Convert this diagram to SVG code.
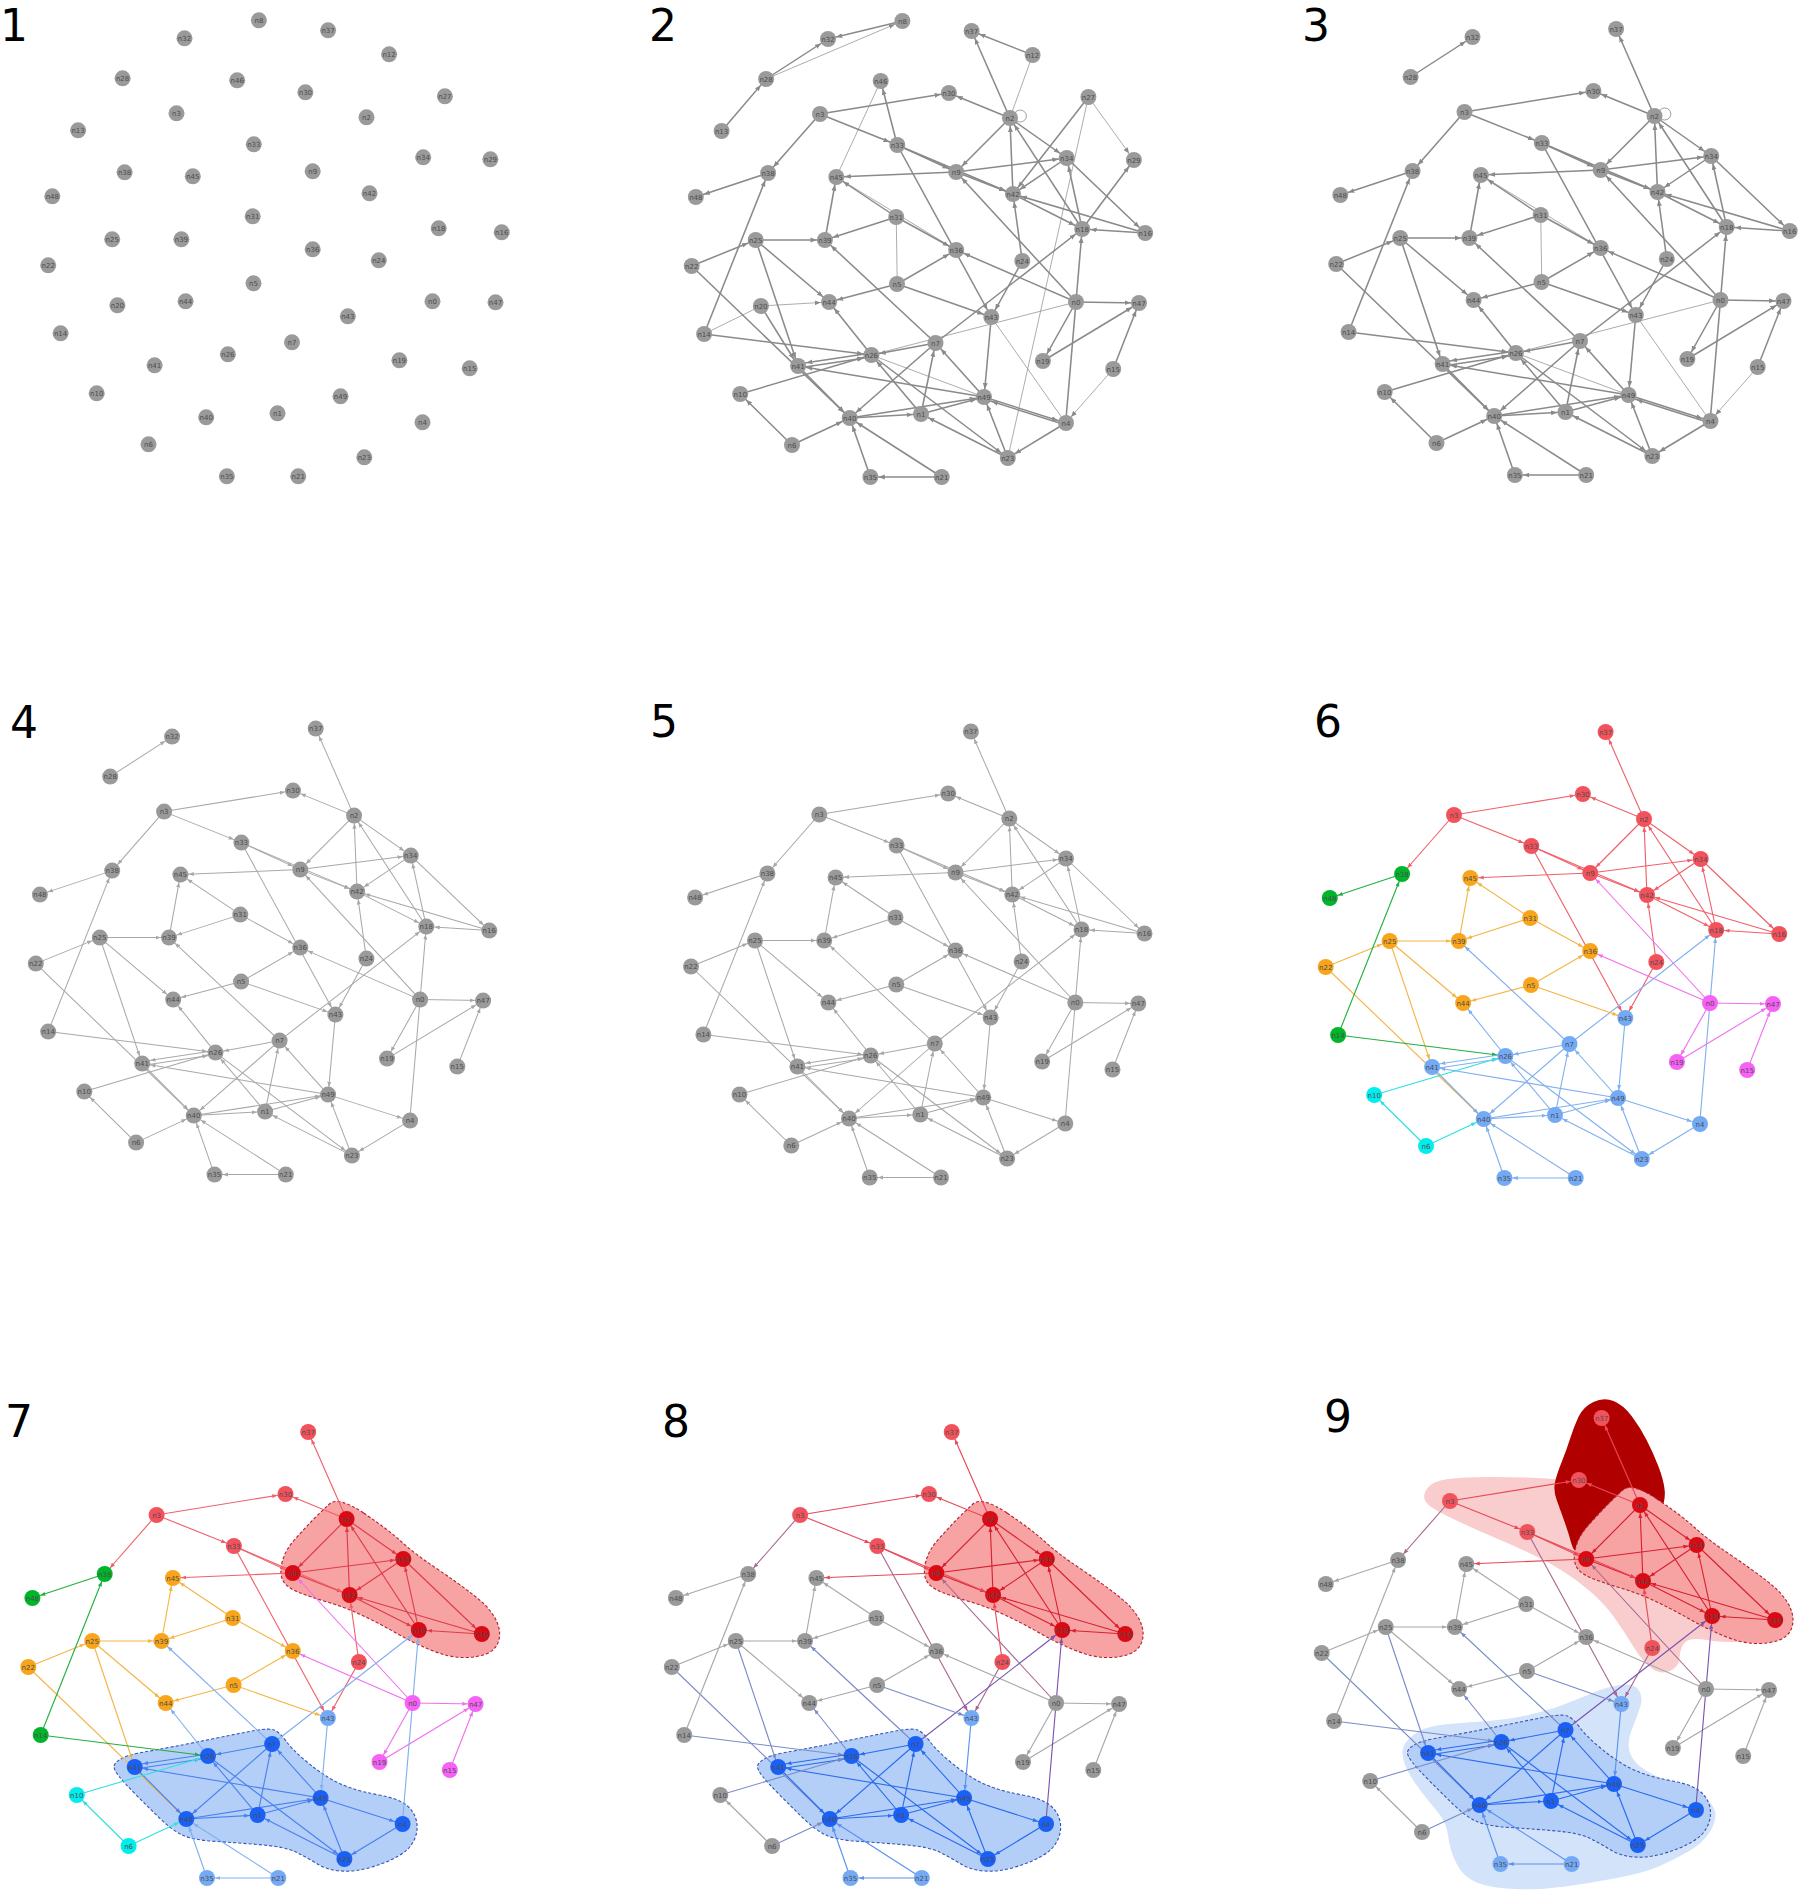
<svg xmlns="http://www.w3.org/2000/svg" width="1800" height="1895" viewBox="0 0 1800 1895" font-family="'DejaVu Sans', sans-serif" font-size="7" text-anchor="middle">
<style>
.num{font-size:44px;text-anchor:start;fill:#000}
.g{fill:#9a9a9a}.R{fill:#f2525c}.RR{fill:#d90a14}.G{fill:#00b52a}.O{fill:#f8a51c}.B{fill:#74aaf5}.BB{fill:#1a60f5}.C{fill:#00eeee}.M{fill:#f562f5}
.kD{stroke:#8a8a8a;marker-end:url(#mD)}
.kL{stroke:#a8a8a8;marker-end:url(#mL)}
.kR{stroke:#f0606a;marker-end:url(#mR)}
.kRd{stroke:#e03a4a;marker-end:url(#mRd)}
.kRR{stroke:#d82030;marker-end:url(#mRR)}
.kRl{stroke:#e84858;marker-end:url(#mRl)}
.kMv{stroke:#a86890;marker-end:url(#mMv)}
.kM{stroke:#f070f0;marker-end:url(#mM)}
.kB{stroke:#80b0f0;marker-end:url(#mB)}
.kBq{stroke:#4a80f0;marker-end:url(#mBq)}
.kBB{stroke:#2a6af0;marker-end:url(#mBB)}
.kBl{stroke:#5a90f0;marker-end:url(#mBl)}
.kO{stroke:#f5b545;marker-end:url(#mO)}
.kG{stroke:#20b040;marker-end:url(#mG)}
.kC{stroke:#30e0e0;marker-end:url(#mC)}
.kP{stroke:#7a55b0;marker-end:url(#mP)}
.kGB{stroke:#7a8cc8;marker-end:url(#mGB)}
.hR{fill:#f7a3a3;stroke:#b52030;stroke-width:1.1;stroke-dasharray:3 2}
.hB{fill:#b3cff7;stroke:#3a55b5;stroke-width:1.1;stroke-dasharray:3 2}
.hD{fill:#b00000}.hP{fill:#f9cdcd}.hO{fill:#d3e3fa}
</style>
<defs>
<marker id="mD" viewBox="0 0 10 10" refX="23.3" refY="5" markerWidth="6" markerHeight="6" orient="auto" markerUnits="userSpaceOnUse"><path d="M0 1L10 5L0 9z" fill="#8a8a8a"/></marker>
<marker id="mL" viewBox="0 0 10 10" refX="26" refY="5" markerWidth="5" markerHeight="5" orient="auto" markerUnits="userSpaceOnUse"><path d="M0 1L10 5L0 9z" fill="#a8a8a8"/></marker>
<marker id="mR" viewBox="0 0 10 10" refX="26" refY="5" markerWidth="5" markerHeight="5" orient="auto" markerUnits="userSpaceOnUse"><path d="M0 1L10 5L0 9z" fill="#f0606a"/></marker>
<marker id="mRd" viewBox="0 0 10 10" refX="26" refY="5" markerWidth="5" markerHeight="5" orient="auto" markerUnits="userSpaceOnUse"><path d="M0 1L10 5L0 9z" fill="#e03a4a"/></marker>
<marker id="mRR" viewBox="0 0 10 10" refX="26" refY="5" markerWidth="5" markerHeight="5" orient="auto" markerUnits="userSpaceOnUse"><path d="M0 1L10 5L0 9z" fill="#d82030"/></marker>
<marker id="mRl" viewBox="0 0 10 10" refX="26" refY="5" markerWidth="5" markerHeight="5" orient="auto" markerUnits="userSpaceOnUse"><path d="M0 1L10 5L0 9z" fill="#e84858"/></marker>
<marker id="mMv" viewBox="0 0 10 10" refX="26" refY="5" markerWidth="5" markerHeight="5" orient="auto" markerUnits="userSpaceOnUse"><path d="M0 1L10 5L0 9z" fill="#a86890"/></marker>
<marker id="mM" viewBox="0 0 10 10" refX="26" refY="5" markerWidth="5" markerHeight="5" orient="auto" markerUnits="userSpaceOnUse"><path d="M0 1L10 5L0 9z" fill="#f070f0"/></marker>
<marker id="mB" viewBox="0 0 10 10" refX="26" refY="5" markerWidth="5" markerHeight="5" orient="auto" markerUnits="userSpaceOnUse"><path d="M0 1L10 5L0 9z" fill="#80b0f0"/></marker>
<marker id="mBq" viewBox="0 0 10 10" refX="26" refY="5" markerWidth="5" markerHeight="5" orient="auto" markerUnits="userSpaceOnUse"><path d="M0 1L10 5L0 9z" fill="#4a80f0"/></marker>
<marker id="mBB" viewBox="0 0 10 10" refX="26" refY="5" markerWidth="5" markerHeight="5" orient="auto" markerUnits="userSpaceOnUse"><path d="M0 1L10 5L0 9z" fill="#2a6af0"/></marker>
<marker id="mBl" viewBox="0 0 10 10" refX="26" refY="5" markerWidth="5" markerHeight="5" orient="auto" markerUnits="userSpaceOnUse"><path d="M0 1L10 5L0 9z" fill="#5a90f0"/></marker>
<marker id="mO" viewBox="0 0 10 10" refX="26" refY="5" markerWidth="5" markerHeight="5" orient="auto" markerUnits="userSpaceOnUse"><path d="M0 1L10 5L0 9z" fill="#f5b545"/></marker>
<marker id="mG" viewBox="0 0 10 10" refX="26" refY="5" markerWidth="5" markerHeight="5" orient="auto" markerUnits="userSpaceOnUse"><path d="M0 1L10 5L0 9z" fill="#20b040"/></marker>
<marker id="mC" viewBox="0 0 10 10" refX="26" refY="5" markerWidth="5" markerHeight="5" orient="auto" markerUnits="userSpaceOnUse"><path d="M0 1L10 5L0 9z" fill="#30e0e0"/></marker>
<marker id="mP" viewBox="0 0 10 10" refX="26" refY="5" markerWidth="5" markerHeight="5" orient="auto" markerUnits="userSpaceOnUse"><path d="M0 1L10 5L0 9z" fill="#7a55b0"/></marker>
<marker id="mGB" viewBox="0 0 10 10" refX="26" refY="5" markerWidth="5" markerHeight="5" orient="auto" markerUnits="userSpaceOnUse"><path d="M0 1L10 5L0 9z" fill="#7a8cc8"/></marker>

<g id="n0"><circle cx="1076" cy="302" r="8"/><text x="1076" y="304.5" fill="#4d4d4d">n0</text></g>
<g id="n1"><circle cx="921" cy="414" r="8"/><text x="921" y="416.5" fill="#4d4d4d">n1</text></g>
<g id="n2"><circle cx="1010" cy="118" r="8"/><text x="1010" y="120.5" fill="#4d4d4d">n2</text></g>
<g id="n3"><circle cx="820" cy="114" r="8"/><text x="820" y="116.5" fill="#4d4d4d">n3</text></g>
<g id="n4"><circle cx="1066" cy="423" r="8"/><text x="1066" y="425.5" fill="#4d4d4d">n4</text></g>
<g id="n5"><circle cx="897" cy="284" r="8"/><text x="897" y="286.5" fill="#4d4d4d">n5</text></g>
<g id="n6"><circle cx="792" cy="445" r="8"/><text x="792" y="447.5" fill="#4d4d4d">n6</text></g>
<g id="n7"><circle cx="935.5" cy="343" r="8"/><text x="935.5" y="345.5" fill="#4d4d4d">n7</text></g>
<g id="n8"><circle cx="902.4" cy="21" r="8"/><text x="902.4" y="23.5" fill="#4d4d4d">n8</text></g>
<g id="n9"><circle cx="956.2" cy="172" r="8"/><text x="956.2" y="174.5" fill="#4d4d4d">n9</text></g>
<g id="n10"><circle cx="740.2" cy="394" r="8"/><text x="740.2" y="396.5" fill="#4d4d4d">n10</text></g>
<g id="n12"><circle cx="1032.6" cy="55" r="8"/><text x="1032.6" y="57.5" fill="#4d4d4d">n12</text></g>
<g id="n13"><circle cx="721.6" cy="131" r="8"/><text x="721.6" y="133.5" fill="#4d4d4d">n13</text></g>
<g id="n14"><circle cx="704.1" cy="334" r="8"/><text x="704.1" y="336.5" fill="#4d4d4d">n14</text></g>
<g id="n15"><circle cx="1113.2" cy="369" r="8"/><text x="1113.2" y="371.5" fill="#4d4d4d">n15</text></g>
<g id="n16"><circle cx="1145.2" cy="233" r="8"/><text x="1145.2" y="235.5" fill="#4d4d4d">n16</text></g>
<g id="n18"><circle cx="1082.2" cy="229" r="8"/><text x="1082.2" y="231.5" fill="#4d4d4d">n18</text></g>
<g id="n19"><circle cx="1042.9" cy="361" r="8"/><text x="1042.9" y="363.5" fill="#4d4d4d">n19</text></g>
<g id="n20"><circle cx="760.9" cy="306" r="8"/><text x="760.9" y="308.5" fill="#4d4d4d">n20</text></g>
<g id="n21"><circle cx="941.7" cy="477" r="8"/><text x="941.7" y="479.5" fill="#4d4d4d">n21</text></g>
<g id="n22"><circle cx="691.7" cy="266" r="8"/><text x="691.7" y="268.5" fill="#4d4d4d">n22</text></g>
<g id="n23"><circle cx="1007.8" cy="458" r="8"/><text x="1007.8" y="460.5" fill="#4d4d4d">n23</text></g>
<g id="n24"><circle cx="1022.3" cy="261" r="8"/><text x="1022.3" y="263.5" fill="#4d4d4d">n24</text></g>
<g id="n25"><circle cx="755.7" cy="240" r="8"/><text x="755.7" y="242.5" fill="#4d4d4d">n25</text></g>
<g id="n26"><circle cx="871.4" cy="355" r="8"/><text x="871.4" y="357.5" fill="#4d4d4d">n26</text></g>
<g id="n27"><circle cx="1088.4" cy="97" r="8"/><text x="1088.4" y="99.5" fill="#4d4d4d">n27</text></g>
<g id="n28"><circle cx="766.1" cy="79" r="8"/><text x="766.1" y="81.5" fill="#4d4d4d">n28</text></g>
<g id="n29"><circle cx="1133.9" cy="160" r="8"/><text x="1133.9" y="162.5" fill="#4d4d4d">n29</text></g>
<g id="n30"><circle cx="948.9" cy="93" r="8"/><text x="948.9" y="95.5" fill="#4d4d4d">n30</text></g>
<g id="n31"><circle cx="896.2" cy="217" r="8"/><text x="896.2" y="219.5" fill="#4d4d4d">n31</text></g>
<g id="n32"><circle cx="828" cy="39" r="8"/><text x="828" y="41.5" fill="#4d4d4d">n32</text></g>
<g id="n33"><circle cx="897.3" cy="145" r="8"/><text x="897.3" y="147.5" fill="#4d4d4d">n33</text></g>
<g id="n34"><circle cx="1066.7" cy="158" r="8"/><text x="1066.7" y="160.5" fill="#4d4d4d">n34</text></g>
<g id="n35"><circle cx="870.4" cy="477" r="8"/><text x="870.4" y="479.5" fill="#4d4d4d">n35</text></g>
<g id="n36"><circle cx="956.2" cy="250" r="8"/><text x="956.2" y="252.5" fill="#4d4d4d">n36</text></g>
<g id="n37"><circle cx="971.6" cy="31" r="8"/><text x="971.6" y="33.5" fill="#4d4d4d">n37</text></g>
<g id="n38"><circle cx="768.1" cy="173" r="8"/><text x="768.1" y="175.5" fill="#4d4d4d">n38</text></g>
<g id="n39"><circle cx="824.9" cy="240" r="8"/><text x="824.9" y="242.5" fill="#4d4d4d">n39</text></g>
<g id="n40"><circle cx="849.7" cy="418" r="8"/><text x="849.7" y="420.5" fill="#4d4d4d">n40</text></g>
<g id="n41"><circle cx="798.1" cy="366" r="8"/><text x="798.1" y="368.5" fill="#4d4d4d">n41</text></g>
<g id="n42"><circle cx="1013" cy="194" r="8"/><text x="1013" y="196.5" fill="#4d4d4d">n42</text></g>
<g id="n43"><circle cx="991.3" cy="317" r="8"/><text x="991.3" y="319.5" fill="#4d4d4d">n43</text></g>
<g id="n44"><circle cx="829.1" cy="302" r="8"/><text x="829.1" y="304.5" fill="#4d4d4d">n44</text></g>
<g id="n45"><circle cx="836.3" cy="177" r="8"/><text x="836.3" y="179.5" fill="#4d4d4d">n45</text></g>
<g id="n46"><circle cx="880.7" cy="81" r="8"/><text x="880.7" y="83.5" fill="#4d4d4d">n46</text></g>
<g id="n47"><circle cx="1139" cy="303" r="8"/><text x="1139" y="305.5" fill="#4d4d4d">n47</text></g>
<g id="n48"><circle cx="695.8" cy="197" r="8"/><text x="695.8" y="199.5" fill="#4d4d4d">n48</text></g>
<g id="n49"><circle cx="984" cy="397" r="8"/><text x="984" y="399.5" fill="#4d4d4d">n49</text></g>

<g id="eC">
<g id="eA"><path d="M998 118L946 172"/><path d="M946 172L1053 158"/><path d="M946 172L1001 194"/><path d="M998 118L1053 158"/><path d="M1001 194L998 118"/><path d="M1068 229L998 118"/><path d="M1053 158L1001 194"/><path d="M1053 158L1129 233"/><path d="M1068 229L1053 158"/><path d="M1001 194L1068 229"/><path d="M1129 233L1001 194"/><path d="M1129 233L1068 229"/></g>
<g id="eB1"><path d="M998 118L961 31"/><path d="M814 114L939 93"/><path d="M998 118L939 93"/><path d="M814 114L889 145"/><path d="M889 145L946 172"/><path d="M889 145L1001 194"/><path d="M1010 261L1001 194"/><path d="M946 172L830 177"/></g>
<g id="eRx"><path d="M814 114L764 173"/><path d="M889 145L980 317"/><path d="M1010 261L980 317"/></g>
<g id="eM1"><path d="M1062 302L946 172"/></g>
<g id="eM2"><path d="M1062 302L946 250"/><path d="M1062 302L1123 303"/><path d="M1062 302L1030 361"/><path d="M1030 361L1123 303"/><path d="M1098 369L1123 303"/></g>
<g id="eBp"><path d="M1052 423L1068 229"/><path d="M926 343L1068 229"/></g>
<g id="eO1"><path d="M889 284L946 250"/><path d="M889 284L823 302"/><path d="M888 217L819 240"/><path d="M819 240L830 177"/><path d="M888 217L830 177"/><path d="M888 217L946 250"/><path d="M752 240L819 240"/><path d="M690 266L752 240"/><path d="M752 240L823 302"/></g>
<g id="eO2"><path d="M889 284L980 317"/><path d="M752 240L793 366"/><path d="M690 266L843 418"/></g>
<g id="eG1"><path d="M764 173L694 197"/><path d="M702 334L764 173"/></g>
<g id="eG2"><path d="M702 334L864 355"/></g>
<g id="eBg"><path d="M864 355L823 302"/><path d="M926 343L819 240"/></g>
<g id="eBB"><path d="M926 343L864 355"/><path d="M864 353L793 364"/><path d="M793 368L864 357"/><path d="M973 397L793 366"/><path d="M793 366L843 418"/><path d="M926 343L843 418"/><path d="M912 414L864 355"/><path d="M864 355L996 458"/><path d="M996 458L912 414"/><path d="M843 418L912 414"/><path d="M843 418L973 397"/><path d="M912 414L973 397"/><path d="M912 414L926 343"/><path d="M973 397L926 343"/><path d="M996 458L973 397"/><path d="M973 397L1052 423"/><path d="M1052 423L996 458"/></g>
<g id="eBl"><path d="M980 317L973 397"/><path d="M863 477L843 418"/><path d="M932 477L843 418"/><path d="M932 477L863 477"/></g>
<g id="eC1"><path d="M787 445L737 394"/></g>
<g id="eC2"><path d="M737 394L864 355"/><path d="M787 445L843 418"/></g>
</g>
<g id="eX28"><path d="M762 79L822 39"/></g>
<g id="eX3"><path d="M1098 369L1052 423" stroke-width=".7"/><path d="M980 317L1052 423" stroke-width=".7" marker-end="none"/><path d="M864 355L1062 302" stroke-width=".7" marker-end="none"/><path d="M864 355L973 397" stroke-width=".7" marker-end="none"/><path d="M888 217L889 284" stroke-width=".7" marker-end="none"/><path d="M946 250L830 177" stroke-width=".7" marker-end="none"/><path d="M1052 425L973 399"/><circle cx="1008" cy="116" r="6" stroke-width=".8"/></g>
<g id="eX2"><path d="M894 21L822 39"/><path d="M762 79L894 21" stroke-width=".7"/><path d="M719 131L762 79"/><path d="M1020 55L961 31"/><path d="M1020 55L998 118" stroke-width=".7" marker-end="none"/><path d="M889 145L873 81"/><path d="M873 81L830 177" stroke-width=".7" marker-end="none"/><path d="M1074 97L1001 194"/><path d="M1074 97L1118 160" stroke-width=".7"/><path d="M1074 97L996 458" stroke-width=".7" marker-end="none"/><path d="M1068 229L1118 160"/><path d="M757 306L823 302" stroke-width=".7"/><path d="M757 306L793 366"/><path d="M702 334L757 306" stroke-width=".7" marker-end="none"/></g>

<path id="hRc" d="M1014.5 112Q1039 129 1051 140.5Q1063 152 1084.5 167Q1106 182 1121 194Q1136 206 1142 217.5Q1148 229 1145.5 239Q1143 249 1133 253Q1123 257 1109.5 256.5Q1096 256 1079.5 249Q1063 242 1046 232Q1029 222 1012.5 214Q996 206 979.5 201Q963 196 951 191Q939 186 936 178.5Q933 171 936 160Q939 149 947.5 139Q956 129 964.5 120Q973 111 981.5 103Q990 95 1014.5 112Z"/>
<path id="hBc" d="M779.5 358Q786 354 799.5 351.5Q813 349 831 345.5Q849 342 872.5 337Q896 332 909.5 329.5Q923 327 928 329Q933 331 939.5 340Q946 349 957.5 359Q969 369 979 375.5Q989 382 1001 386.5Q1013 391 1029.5 394Q1046 397 1054.5 403Q1063 409 1065.5 419Q1068 429 1063.5 439Q1059 449 1047.5 455.5Q1036 462 1021 466.5Q1006 471 992.5 470Q979 469 969 462.5Q959 456 949 451Q939 446 917.5 444Q896 442 872.5 440.5Q849 439 839 434Q829 429 817.5 417.5Q806 406 794.5 394Q783 382 778 375.5Q773 369 773 365.5Q773 362 779.5 358Z"/>
<path id="hDk" d="M972.5 14Q982 18 990 29Q998 40 1004.5 53Q1011 66 1016 79.5Q1021 93 1022 103Q1023 113 1018.5 123Q1014 133 1006 138Q998 143 987 149.5Q976 156 963 163Q950 170 942 168Q934 166 931.5 156Q929 146 925 134.5Q921 123 917.5 113Q914 103 916 94.5Q918 86 922.5 74.5Q927 63 930.5 51.5Q934 40 938.5 30Q943 20 953 15Q963 10 972.5 14Z"/>
<path id="hPk" d="M793.3 100Q798 94 812.5 92Q827 90 853 90Q879 90 898.5 91Q918 92 934 94Q950 96 966 99.5Q982 103 998 108Q1014 113 1030.5 124.5Q1047 136 1063 153Q1079 170 1095 186.5Q1111 203 1124 211.5Q1137 220 1140.3 228Q1143.5 236 1138.8 244.5Q1134 253 1106.5 254.5Q1079 256 1063 253Q1047 250 1042 255Q1037 260 1036.5 270Q1036 280 1027 284Q1018 288 1009 281Q1000 274 991 258.5Q982 243 972.5 229.5Q963 216 950 204.5Q937 193 924 184.5Q911 176 895 168Q879 160 859.5 151.5Q840 143 822.5 134.5Q805 126 797.5 121Q790 116 789.3 111Q788.5 106 793.3 100Z"/>
<path id="hBo" d="M778.8 348Q788.5 340 804.8 338Q821 336 845 334.5Q869 333 890 328Q911 323 927 316.5Q943 310 954.5 305Q966 300 979 298Q992 296 996.8 303Q1001.5 310 998.3 320Q995 330 990 343Q985 356 988.5 366Q992 376 1003 383Q1014 390 1030.5 396.5Q1047 403 1058 409.5Q1069 416 1070.8 424.5Q1072.5 433 1066 444.5Q1059.5 456 1045 464.5Q1030.5 473 1016 479.5Q1001.5 486 975.8 491Q950 496 925.8 499.5Q901.5 503 877.3 502Q853 501 840 495.5Q827 490 820.5 476.5Q814 463 812.5 449.5Q811 436 803 426Q795 416 785.3 403Q775.6 390 771.6 380Q767.6 370 768.3 363Q769 356 778.8 348Z"/>
</defs>

<rect x="0" y="0" width="1800" height="1895" fill="#fff"/>

<g id="panel1">
<text class="num" x="0" y="41">1</text>
<g transform="translate(-643.5,-0.7)">
<g id="p1-nodes" class="g">
<g id="p1n0"><use href="#n0"/></g><g id="p1n1"><use href="#n1"/></g><g id="p1n2"><use href="#n2"/></g><g id="p1n3"><use href="#n3"/></g><g id="p1n4"><use href="#n4"/></g><g id="p1n5"><use href="#n5"/></g><g id="p1n6"><use href="#n6"/></g><g id="p1n7"><use href="#n7"/></g><g id="p1n8"><use href="#n8"/></g><g id="p1n9"><use href="#n9"/></g>
<g id="p1n10"><use href="#n10"/></g><g id="p1n12"><use href="#n12"/></g><g id="p1n13"><use href="#n13"/></g><g id="p1n14"><use href="#n14"/></g><g id="p1n15"><use href="#n15"/></g><g id="p1n16"><use href="#n16"/></g><g id="p1n18"><use href="#n18"/></g><g id="p1n19"><use href="#n19"/></g><g id="p1n20"><use href="#n20"/></g><g id="p1n21"><use href="#n21"/></g>
<g id="p1n22"><use href="#n22"/></g><g id="p1n23"><use href="#n23"/></g><g id="p1n24"><use href="#n24"/></g><g id="p1n25"><use href="#n25"/></g><g id="p1n26"><use href="#n26"/></g><g id="p1n27"><use href="#n27"/></g><g id="p1n28"><use href="#n28"/></g><g id="p1n29"><use href="#n29"/></g><g id="p1n30"><use href="#n30"/></g><g id="p1n31"><use href="#n31"/></g>
<g id="p1n32"><use href="#n32"/></g><g id="p1n33"><use href="#n33"/></g><g id="p1n34"><use href="#n34"/></g><g id="p1n35"><use href="#n35"/></g><g id="p1n36"><use href="#n36"/></g><g id="p1n37"><use href="#n37"/></g><g id="p1n38"><use href="#n38"/></g><g id="p1n39"><use href="#n39"/></g><g id="p1n40"><use href="#n40"/></g><g id="p1n41"><use href="#n41"/></g>
<g id="p1n42"><use href="#n42"/></g><g id="p1n43"><use href="#n43"/></g><g id="p1n44"><use href="#n44"/></g><g id="p1n45"><use href="#n45"/></g><g id="p1n46"><use href="#n46"/></g><g id="p1n47"><use href="#n47"/></g><g id="p1n48"><use href="#n48"/></g><g id="p1n49"><use href="#n49"/></g>
</g>
</g>
</g>

<g id="panel2">
<text class="num" x="649" y="41">2</text>
<g id="p2-edges" class="kD" fill="none" stroke-width="1.5" transform="matrix(1.03317 0 0 1 -21.23 0)"><use href="#eC"/><use href="#eX28"/><use href="#eX3"/><use href="#eX2"/></g>
<g id="p2-nodes" class="g">
<g id="p2n0"><use href="#n0"/></g><g id="p2n1"><use href="#n1"/></g><g id="p2n2"><use href="#n2"/></g><g id="p2n3"><use href="#n3"/></g><g id="p2n4"><use href="#n4"/></g><g id="p2n5"><use href="#n5"/></g><g id="p2n6"><use href="#n6"/></g><g id="p2n7"><use href="#n7"/></g><g id="p2n8"><use href="#n8"/></g><g id="p2n9"><use href="#n9"/></g>
<g id="p2n10"><use href="#n10"/></g><g id="p2n12"><use href="#n12"/></g><g id="p2n13"><use href="#n13"/></g><g id="p2n14"><use href="#n14"/></g><g id="p2n15"><use href="#n15"/></g><g id="p2n16"><use href="#n16"/></g><g id="p2n18"><use href="#n18"/></g><g id="p2n19"><use href="#n19"/></g><g id="p2n20"><use href="#n20"/></g><g id="p2n21"><use href="#n21"/></g>
<g id="p2n22"><use href="#n22"/></g><g id="p2n23"><use href="#n23"/></g><g id="p2n24"><use href="#n24"/></g><g id="p2n25"><use href="#n25"/></g><g id="p2n26"><use href="#n26"/></g><g id="p2n27"><use href="#n27"/></g><g id="p2n28"><use href="#n28"/></g><g id="p2n29"><use href="#n29"/></g><g id="p2n30"><use href="#n30"/></g><g id="p2n31"><use href="#n31"/></g>
<g id="p2n32"><use href="#n32"/></g><g id="p2n33"><use href="#n33"/></g><g id="p2n34"><use href="#n34"/></g><g id="p2n35"><use href="#n35"/></g><g id="p2n36"><use href="#n36"/></g><g id="p2n37"><use href="#n37"/></g><g id="p2n38"><use href="#n38"/></g><g id="p2n39"><use href="#n39"/></g><g id="p2n40"><use href="#n40"/></g><g id="p2n41"><use href="#n41"/></g>
<g id="p2n42"><use href="#n42"/></g><g id="p2n43"><use href="#n43"/></g><g id="p2n44"><use href="#n44"/></g><g id="p2n45"><use href="#n45"/></g><g id="p2n46"><use href="#n46"/></g><g id="p2n47"><use href="#n47"/></g><g id="p2n48"><use href="#n48"/></g><g id="p2n49"><use href="#n49"/></g>
</g>
</g>

<g id="panel3">
<text class="num" x="1302" y="41">3</text>
<g transform="translate(644.5,-2)">
<g id="p3-edges" class="kD" fill="none" stroke-width="1.5" transform="matrix(1.03317 0 0 1 -21.23 0)"><use href="#eC"/><use href="#eX28"/><use href="#eX3"/></g>
<g id="p3-nodes" class="g">
<g id="p3n0"><use href="#n0"/></g><g id="p3n1"><use href="#n1"/></g><g id="p3n2"><use href="#n2"/></g><g id="p3n3"><use href="#n3"/></g><g id="p3n4"><use href="#n4"/></g><g id="p3n5"><use href="#n5"/></g><g id="p3n6"><use href="#n6"/></g><g id="p3n7"><use href="#n7"/></g><g id="p3n9"><use href="#n9"/></g><g id="p3n10"><use href="#n10"/></g>
<g id="p3n14"><use href="#n14"/></g><g id="p3n15"><use href="#n15"/></g><g id="p3n16"><use href="#n16"/></g><g id="p3n18"><use href="#n18"/></g><g id="p3n19"><use href="#n19"/></g><g id="p3n21"><use href="#n21"/></g><g id="p3n22"><use href="#n22"/></g><g id="p3n23"><use href="#n23"/></g><g id="p3n24"><use href="#n24"/></g><g id="p3n25"><use href="#n25"/></g>
<g id="p3n26"><use href="#n26"/></g><g id="p3n28"><use href="#n28"/></g><g id="p3n30"><use href="#n30"/></g><g id="p3n31"><use href="#n31"/></g><g id="p3n32"><use href="#n32"/></g><g id="p3n33"><use href="#n33"/></g><g id="p3n34"><use href="#n34"/></g><g id="p3n35"><use href="#n35"/></g><g id="p3n36"><use href="#n36"/></g><g id="p3n37"><use href="#n37"/></g>
<g id="p3n38"><use href="#n38"/></g><g id="p3n39"><use href="#n39"/></g><g id="p3n40"><use href="#n40"/></g><g id="p3n41"><use href="#n41"/></g><g id="p3n42"><use href="#n42"/></g><g id="p3n43"><use href="#n43"/></g><g id="p3n44"><use href="#n44"/></g><g id="p3n45"><use href="#n45"/></g><g id="p3n47"><use href="#n47"/></g><g id="p3n48"><use href="#n48"/></g><g id="p3n49"><use href="#n49"/></g>
</g>
</g>
</g>

<g id="panel4">
<text class="num" x="10" y="738">4</text>
<g transform="translate(-655.9,697.6)">
<g id="p4-edges" class="kL" fill="none" stroke-width="1" transform="matrix(1.03317 0 0 1 -21.23 0)"><use href="#eC"/><use href="#eX28"/></g>
<g id="p4-nodes" class="g">
<g id="p4n0"><use href="#n0"/></g><g id="p4n1"><use href="#n1"/></g><g id="p4n2"><use href="#n2"/></g><g id="p4n3"><use href="#n3"/></g><g id="p4n4"><use href="#n4"/></g><g id="p4n5"><use href="#n5"/></g><g id="p4n6"><use href="#n6"/></g><g id="p4n7"><use href="#n7"/></g><g id="p4n9"><use href="#n9"/></g><g id="p4n10"><use href="#n10"/></g>
<g id="p4n14"><use href="#n14"/></g><g id="p4n15"><use href="#n15"/></g><g id="p4n16"><use href="#n16"/></g><g id="p4n18"><use href="#n18"/></g><g id="p4n19"><use href="#n19"/></g><g id="p4n21"><use href="#n21"/></g><g id="p4n22"><use href="#n22"/></g><g id="p4n23"><use href="#n23"/></g><g id="p4n24"><use href="#n24"/></g><g id="p4n25"><use href="#n25"/></g>
<g id="p4n26"><use href="#n26"/></g><g id="p4n28"><use href="#n28"/></g><g id="p4n30"><use href="#n30"/></g><g id="p4n31"><use href="#n31"/></g><g id="p4n32"><use href="#n32"/></g><g id="p4n33"><use href="#n33"/></g><g id="p4n34"><use href="#n34"/></g><g id="p4n35"><use href="#n35"/></g><g id="p4n36"><use href="#n36"/></g><g id="p4n37"><use href="#n37"/></g>
<g id="p4n38"><use href="#n38"/></g><g id="p4n39"><use href="#n39"/></g><g id="p4n40"><use href="#n40"/></g><g id="p4n41"><use href="#n41"/></g><g id="p4n42"><use href="#n42"/></g><g id="p4n43"><use href="#n43"/></g><g id="p4n44"><use href="#n44"/></g><g id="p4n45"><use href="#n45"/></g><g id="p4n47"><use href="#n47"/></g><g id="p4n48"><use href="#n48"/></g><g id="p4n49"><use href="#n49"/></g>
</g>
</g>
</g>

<g id="panel5">
<text class="num" x="650" y="737">5</text>
<g transform="translate(-0.7,700.5)">
<g id="p5-edges" class="kL" fill="none" stroke-width="1" transform="matrix(1.03317 0 0 1 -21.23 0)"><use href="#eC"/></g>
<g id="p5-nodes" class="g">
<g id="p5n0"><use href="#n0"/></g><g id="p5n1"><use href="#n1"/></g><g id="p5n2"><use href="#n2"/></g><g id="p5n3"><use href="#n3"/></g><g id="p5n4"><use href="#n4"/></g><g id="p5n5"><use href="#n5"/></g><g id="p5n6"><use href="#n6"/></g><g id="p5n7"><use href="#n7"/></g><g id="p5n9"><use href="#n9"/></g><g id="p5n10"><use href="#n10"/></g>
<g id="p5n14"><use href="#n14"/></g><g id="p5n15"><use href="#n15"/></g><g id="p5n16"><use href="#n16"/></g><g id="p5n18"><use href="#n18"/></g><g id="p5n19"><use href="#n19"/></g><g id="p5n21"><use href="#n21"/></g><g id="p5n22"><use href="#n22"/></g><g id="p5n23"><use href="#n23"/></g><g id="p5n24"><use href="#n24"/></g><g id="p5n25"><use href="#n25"/></g>
<g id="p5n26"><use href="#n26"/></g><g id="p5n30"><use href="#n30"/></g><g id="p5n31"><use href="#n31"/></g><g id="p5n33"><use href="#n33"/></g><g id="p5n34"><use href="#n34"/></g><g id="p5n35"><use href="#n35"/></g><g id="p5n36"><use href="#n36"/></g><g id="p5n37"><use href="#n37"/></g>
<g id="p5n38"><use href="#n38"/></g><g id="p5n39"><use href="#n39"/></g><g id="p5n40"><use href="#n40"/></g><g id="p5n41"><use href="#n41"/></g><g id="p5n42"><use href="#n42"/></g><g id="p5n43"><use href="#n43"/></g><g id="p5n44"><use href="#n44"/></g><g id="p5n45"><use href="#n45"/></g><g id="p5n47"><use href="#n47"/></g><g id="p5n48"><use href="#n48"/></g><g id="p5n49"><use href="#n49"/></g>
</g>
</g>
</g>

<g id="panel6">
<text class="num" x="1314" y="737">6</text>
<g transform="translate(634,701)">
<g id="p6-edges" fill="none" stroke-width="1.1" transform="matrix(1.03317 0 0 1 -21.23 0)">
<use href="#eA" class="kR"/><use href="#eB1" class="kR"/><use href="#eRx" class="kR"/><use href="#eM1" class="kM"/><use href="#eM2" class="kM"/><use href="#eBp" class="kB"/><use href="#eO1" class="kO"/><use href="#eO2" class="kO"/><use href="#eG1" class="kG"/><use href="#eG2" class="kG"/><use href="#eBg" class="kB"/><use href="#eBB" class="kB"/><use href="#eBl" class="kB"/><use href="#eC1" class="kC"/><use href="#eC2" class="kC"/>
</g>
<g id="p6-nodes">
<g id="p6n0" class="M"><use href="#n0"/></g><g id="p6n1" class="B"><use href="#n1"/></g><g id="p6n2" class="R"><use href="#n2"/></g><g id="p6n3" class="R"><use href="#n3"/></g><g id="p6n4" class="B"><use href="#n4"/></g><g id="p6n5" class="O"><use href="#n5"/></g><g id="p6n6" class="C"><use href="#n6"/></g><g id="p6n7" class="B"><use href="#n7"/></g><g id="p6n9" class="R"><use href="#n9"/></g><g id="p6n10" class="C"><use href="#n10"/></g>
<g id="p6n14" class="G"><use href="#n14"/></g><g id="p6n15" class="M"><use href="#n15"/></g><g id="p6n16" class="R"><use href="#n16"/></g><g id="p6n18" class="R"><use href="#n18"/></g><g id="p6n19" class="M"><use href="#n19"/></g><g id="p6n21" class="B"><use href="#n21"/></g><g id="p6n22" class="O"><use href="#n22"/></g><g id="p6n23" class="B"><use href="#n23"/></g><g id="p6n24" class="R"><use href="#n24"/></g><g id="p6n25" class="O"><use href="#n25"/></g>
<g id="p6n26" class="B"><use href="#n26"/></g><g id="p6n30" class="R"><use href="#n30"/></g><g id="p6n31" class="O"><use href="#n31"/></g><g id="p6n33" class="R"><use href="#n33"/></g><g id="p6n34" class="R"><use href="#n34"/></g><g id="p6n35" class="B"><use href="#n35"/></g><g id="p6n36" class="O"><use href="#n36"/></g><g id="p6n37" class="R"><use href="#n37"/></g>
<g id="p6n38" class="G"><use href="#n38"/></g><g id="p6n39" class="O"><use href="#n39"/></g><g id="p6n40" class="B"><use href="#n40"/></g><g id="p6n41" class="B"><use href="#n41"/></g><g id="p6n42" class="R"><use href="#n42"/></g><g id="p6n43" class="B"><use href="#n43"/></g><g id="p6n44" class="O"><use href="#n44"/></g><g id="p6n45" class="O"><use href="#n45"/></g><g id="p6n47" class="M"><use href="#n47"/></g><g id="p6n48" class="G"><use href="#n48"/></g><g id="p6n49" class="B"><use href="#n49"/></g>
</g>
</g>
</g>

<g id="panel7">
<text class="num" x="5" y="1437">7</text>
<g transform="translate(-663.4,1401)">
<g id="p7-hulls" transform="matrix(1.03317 0 0 1 -21.23 0)"><use href="#hRc" class="hR"/><use href="#hBc" class="hB"/></g>
<g id="p7-edges" fill="none" stroke-width="1.1" transform="matrix(1.03317 0 0 1 -21.23 0)">
<use href="#eA" class="kRd"/><use href="#eB1" class="kR"/><use href="#eRx" class="kR"/><use href="#eM1" class="kM"/><use href="#eM2" class="kM"/><use href="#eBp" class="kB"/><use href="#eO1" class="kO"/><use href="#eO2" class="kO"/><use href="#eG1" class="kG"/><use href="#eG2" class="kG"/><use href="#eBg" class="kB"/><use href="#eBB" class="kBq"/><use href="#eBl" class="kB"/><use href="#eC1" class="kC"/><use href="#eC2" class="kC"/>
</g>
<g id="p7-nodes">
<g id="p7n0" class="M"><use href="#n0"/></g><g id="p7n1" class="BB"><use href="#n1"/></g><g id="p7n2" class="RR"><use href="#n2"/></g><g id="p7n3" class="R"><use href="#n3"/></g><g id="p7n4" class="BB"><use href="#n4"/></g><g id="p7n5" class="O"><use href="#n5"/></g><g id="p7n6" class="C"><use href="#n6"/></g><g id="p7n7" class="BB"><use href="#n7"/></g><g id="p7n9" class="RR"><use href="#n9"/></g><g id="p7n10" class="C"><use href="#n10"/></g>
<g id="p7n14" class="G"><use href="#n14"/></g><g id="p7n15" class="M"><use href="#n15"/></g><g id="p7n16" class="RR"><use href="#n16"/></g><g id="p7n18" class="RR"><use href="#n18"/></g><g id="p7n19" class="M"><use href="#n19"/></g><g id="p7n21" class="B"><use href="#n21"/></g><g id="p7n22" class="O"><use href="#n22"/></g><g id="p7n23" class="BB"><use href="#n23"/></g><g id="p7n24" class="R"><use href="#n24"/></g><g id="p7n25" class="O"><use href="#n25"/></g>
<g id="p7n26" class="BB"><use href="#n26"/></g><g id="p7n30" class="R"><use href="#n30"/></g><g id="p7n31" class="O"><use href="#n31"/></g><g id="p7n33" class="R"><use href="#n33"/></g><g id="p7n34" class="RR"><use href="#n34"/></g><g id="p7n35" class="B"><use href="#n35"/></g><g id="p7n36" class="O"><use href="#n36"/></g><g id="p7n37" class="R"><use href="#n37"/></g>
<g id="p7n38" class="G"><use href="#n38"/></g><g id="p7n39" class="O"><use href="#n39"/></g><g id="p7n40" class="BB"><use href="#n40"/></g><g id="p7n41" class="BB"><use href="#n41"/></g><g id="p7n42" class="RR"><use href="#n42"/></g><g id="p7n43" class="B"><use href="#n43"/></g><g id="p7n44" class="O"><use href="#n44"/></g><g id="p7n45" class="O"><use href="#n45"/></g><g id="p7n47" class="M"><use href="#n47"/></g><g id="p7n48" class="G"><use href="#n48"/></g><g id="p7n49" class="BB"><use href="#n49"/></g>
</g>
</g>
</g>

<g id="panel8">
<text class="num" x="662" y="1437">8</text>
<g transform="translate(-19.9,1401)">
<g id="p8-hulls" transform="matrix(1.03317 0 0 1 -21.23 0)"><use href="#hRc" class="hR"/><use href="#hBc" class="hB"/></g>
<g id="p8-edges" fill="none" stroke-width="1.1" transform="matrix(1.03317 0 0 1 -21.23 0)">
<use href="#eA" class="kRR"/><use href="#eB1" class="kRl"/><use href="#eRx" class="kMv"/><use href="#eM1" class="kMv"/><use href="#eM2" class="kL"/><use href="#eBp" class="kP"/><use href="#eO1" class="kL"/><use href="#eO2" class="kGB"/><use href="#eG1" class="kL"/><use href="#eG2" class="kGB"/><use href="#eBg" class="kGB"/><use href="#eBB" class="kBB"/><use href="#eBl" class="kBl"/><use href="#eC1" class="kL"/><use href="#eC2" class="kGB"/>
</g>
<g id="p8-nodes" class="g">
<g id="p8n0"><use href="#n0"/></g><g id="p8n1" class="BB"><use href="#n1"/></g><g id="p8n2" class="RR"><use href="#n2"/></g><g id="p8n3" class="R"><use href="#n3"/></g><g id="p8n4" class="BB"><use href="#n4"/></g><g id="p8n5"><use href="#n5"/></g><g id="p8n6"><use href="#n6"/></g><g id="p8n7" class="BB"><use href="#n7"/></g><g id="p8n9" class="RR"><use href="#n9"/></g><g id="p8n10"><use href="#n10"/></g>
<g id="p8n14"><use href="#n14"/></g><g id="p8n15"><use href="#n15"/></g><g id="p8n16" class="RR"><use href="#n16"/></g><g id="p8n18" class="RR"><use href="#n18"/></g><g id="p8n19"><use href="#n19"/></g><g id="p8n21" class="B"><use href="#n21"/></g><g id="p8n22"><use href="#n22"/></g><g id="p8n23" class="BB"><use href="#n23"/></g><g id="p8n24" class="R"><use href="#n24"/></g><g id="p8n25"><use href="#n25"/></g>
<g id="p8n26" class="BB"><use href="#n26"/></g><g id="p8n30" class="R"><use href="#n30"/></g><g id="p8n31"><use href="#n31"/></g><g id="p8n33" class="R"><use href="#n33"/></g><g id="p8n34" class="RR"><use href="#n34"/></g><g id="p8n35" class="B"><use href="#n35"/></g><g id="p8n36"><use href="#n36"/></g><g id="p8n37" class="R"><use href="#n37"/></g>
<g id="p8n38"><use href="#n38"/></g><g id="p8n39"><use href="#n39"/></g><g id="p8n40" class="BB"><use href="#n40"/></g><g id="p8n41" class="BB"><use href="#n41"/></g><g id="p8n42" class="RR"><use href="#n42"/></g><g id="p8n43" class="B"><use href="#n43"/></g><g id="p8n44"><use href="#n44"/></g><g id="p8n45"><use href="#n45"/></g><g id="p8n47"><use href="#n47"/></g><g id="p8n48"><use href="#n48"/></g><g id="p8n49" class="BB"><use href="#n49"/></g>
</g>
</g>
</g>

<g id="panel9">
<text class="num" x="1324" y="1432">9</text>
<g transform="translate(630,1387)">
<g id="p9-hulls" transform="matrix(1.03317 0 0 1 -21.23 0)"><use href="#hPk" class="hP"/><use href="#hDk" class="hD"/><use href="#hBo" class="hO"/><use href="#hRc" class="hR"/><use href="#hBc" class="hB"/></g>
<g id="p9-edges" fill="none" stroke-width="1.1" transform="matrix(1.03317 0 0 1 -21.23 0)">
<use href="#eA" class="kRR"/><use href="#eB1" class="kRl"/><use href="#eRx" class="kMv"/><use href="#eM1" class="kMv"/><use href="#eM2" class="kL"/><use href="#eBp" class="kP"/><use href="#eO1" class="kL"/><use href="#eO2" class="kGB"/><use href="#eG1" class="kL"/><use href="#eG2" class="kGB"/><use href="#eBg" class="kGB"/><use href="#eBB" class="kBB"/><use href="#eBl" class="kBl"/><use href="#eC1" class="kL"/><use href="#eC2" class="kGB"/>
</g>
<g id="p9-nodes" class="g">
<g id="p9n0"><use href="#n0"/></g><g id="p9n1" class="BB"><use href="#n1"/></g><g id="p9n2" class="RR"><use href="#n2"/></g><g id="p9n3" class="R"><use href="#n3"/></g><g id="p9n4" class="BB"><use href="#n4"/></g><g id="p9n5"><use href="#n5"/></g><g id="p9n6"><use href="#n6"/></g><g id="p9n7" class="BB"><use href="#n7"/></g><g id="p9n9" class="RR"><use href="#n9"/></g><g id="p9n10"><use href="#n10"/></g>
<g id="p9n14"><use href="#n14"/></g><g id="p9n15"><use href="#n15"/></g><g id="p9n16" class="RR"><use href="#n16"/></g><g id="p9n18" class="RR"><use href="#n18"/></g><g id="p9n19"><use href="#n19"/></g><g id="p9n21" class="B"><use href="#n21"/></g><g id="p9n22"><use href="#n22"/></g><g id="p9n23" class="BB"><use href="#n23"/></g><g id="p9n24" class="R"><use href="#n24"/></g><g id="p9n25"><use href="#n25"/></g>
<g id="p9n26" class="BB"><use href="#n26"/></g><g id="p9n30" class="R"><use href="#n30"/></g><g id="p9n31"><use href="#n31"/></g><g id="p9n33" class="R"><use href="#n33"/></g><g id="p9n34" class="RR"><use href="#n34"/></g><g id="p9n35" class="B"><use href="#n35"/></g><g id="p9n36"><use href="#n36"/></g><g id="p9n37" class="R"><use href="#n37"/></g>
<g id="p9n38"><use href="#n38"/></g><g id="p9n39"><use href="#n39"/></g><g id="p9n40" class="BB"><use href="#n40"/></g><g id="p9n41" class="BB"><use href="#n41"/></g><g id="p9n42" class="RR"><use href="#n42"/></g><g id="p9n43" class="B"><use href="#n43"/></g><g id="p9n44"><use href="#n44"/></g><g id="p9n45"><use href="#n45"/></g><g id="p9n47"><use href="#n47"/></g><g id="p9n48"><use href="#n48"/></g><g id="p9n49" class="BB"><use href="#n49"/></g>
</g>
</g>
</g>
</svg>
